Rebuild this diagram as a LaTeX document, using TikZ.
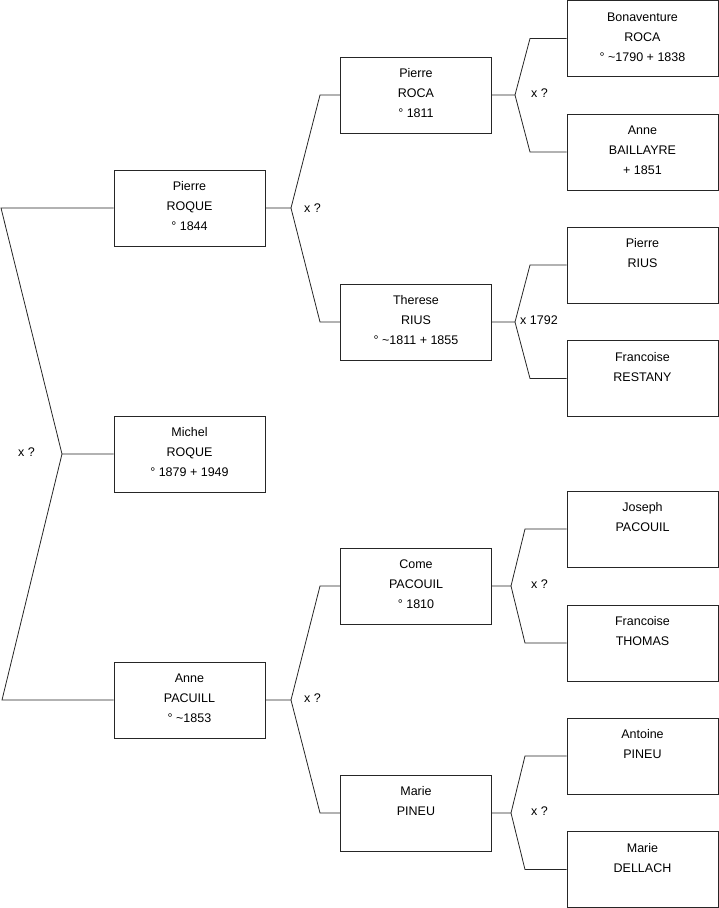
\documentclass[tikz,border=0pt]{standalone}
\usepackage{fontspec}
\setmainfont{Liberation Sans}
\newcommand{\lowfix}{\rule[-3.5pt]{0pt}{0pt}}
\begin{document}
\begin{tikzpicture}[x=1pt,y=-1pt,
  person/.style={draw=black!85, line width=0.8pt, minimum width=151pt, minimum height=76pt,
    inner sep=0pt, align=center, font=\fontsize{12.5}{20}\selectfont},
  link/.style={draw=black!85, line width=0.8pt},
  mar/.style={anchor=west, inner sep=0pt, font=\fontsize{12.5}{14}\selectfont}]
\useasboundingbox (0,0) rectangle (719,908);
% generation 1
\node[person] (roque) at (189.5,208) {Pierre\\ROQUE\\° 1844\lowfix};
\node[person] (michel) at (189.5,454) {Michel\\ROQUE\\° 1879 + 1949\lowfix};
\node[person] (pacuill) at (189.5,700) {Anne\\PACUILL\\° \textasciitilde1853\lowfix};
% generation 2
\node[person] (roca) at (416,95) {Pierre\\ROCA\\° 1811\lowfix};
\node[person] (rius) at (416,322) {Therese\\RIUS\\° \textasciitilde1811 + 1855\lowfix};
\node[person] (pacouil) at (416,586) {Come\\PACOUIL\\° 1810\lowfix};
\node[person] (pineu) at (416,813) {Marie\\PINEU\\\lowfix};
% generation 3
\node[person] (bonav) at (642.5,38.5) {Bonaventure\\ROCA\\° \textasciitilde1790 + 1838\lowfix};
\node[person] (baill) at (642.5,152) {Anne\\BAILLAYRE\\+ 1851\lowfix};
\node[person] (prius) at (642.5,265) {Pierre\\RIUS\\\lowfix};
\node[person] (restany) at (642.5,378.5) {Francoise\\RESTANY\\\lowfix};
\node[person] (joseph) at (642.5,529) {Joseph\\PACOUIL\\\lowfix};
\node[person] (thomas) at (642.5,643) {Francoise\\THOMAS\\\lowfix};
\node[person] (antoine) at (642.5,756) {Antoine\\PINEU\\\lowfix};
\node[person] (dellach) at (642.5,869.5) {Marie\\DELLACH\\\lowfix};
% junction points
\coordinate (l1) at (1,208);
\coordinate (l2) at (2,700);
\coordinate (j0) at (62,454);
\coordinate (j1) at (291,208);
\coordinate (j1a) at (320,95);
\coordinate (j1b) at (320,322);
\coordinate (j2) at (291,700);
\coordinate (j2a) at (320,586);
\coordinate (j2b) at (320,813);
\coordinate (j3) at (515,95);
\coordinate (j3a) at (530,38.5);
\coordinate (j3b) at (530,152);
\coordinate (j4) at (515,322);
\coordinate (j4a) at (530,265);
\coordinate (j4b) at (530,378.5);
\coordinate (j5) at (511,586);
\coordinate (j5a) at (525,529);
\coordinate (j5b) at (525,643);
\coordinate (j6) at (511,813);
\coordinate (j6a) at (525,756);
\coordinate (j6b) at (525,869.5);
% connectors
\draw[link] (roque.west) -- (l1) -- (j0) -- (michel.west);
\draw[link] (pacuill.west) -- (l2) -- (j0);
\draw[link] (roque.east) -- (j1) -- (j1a) -- (roca.west);
\draw[link] (j1) -- (j1b) -- (rius.west);
\draw[link] (pacuill.east) -- (j2) -- (j2a) -- (pacouil.west);
\draw[link] (j2) -- (j2b) -- (pineu.west);
\draw[link] (roca.east) -- (j3) -- (j3a) -- (bonav.west);
\draw[link] (j3) -- (j3b) -- (baill.west);
\draw[link] (rius.east) -- (j4) -- (j4a) -- (prius.west);
\draw[link] (j4) -- (j4b) -- (restany.west);
\draw[link] (pacouil.east) -- (j5) -- (j5a) -- (joseph.west);
\draw[link] (j5) -- (j5b) -- (thomas.west);
\draw[link] (pineu.east) -- (j6) -- (j6a) -- (antoine.west);
\draw[link] (j6) -- (j6b) -- (dellach.west);
% marriage labels
\node[mar] (m0) at (18,452) {x ?};
\node[mar] (m1) at (304,208) {x ?};
\node[mar] (m2) at (304,698) {x ?};
\node[mar] (m3) at (531,93) {x ?};
\node[mar] (m4) at (520,320) {x 1792};
\node[mar] (m5) at (531,584) {x ?};
\node[mar] (m6) at (531,811) {x ?};
\end{tikzpicture}
\end{document}
